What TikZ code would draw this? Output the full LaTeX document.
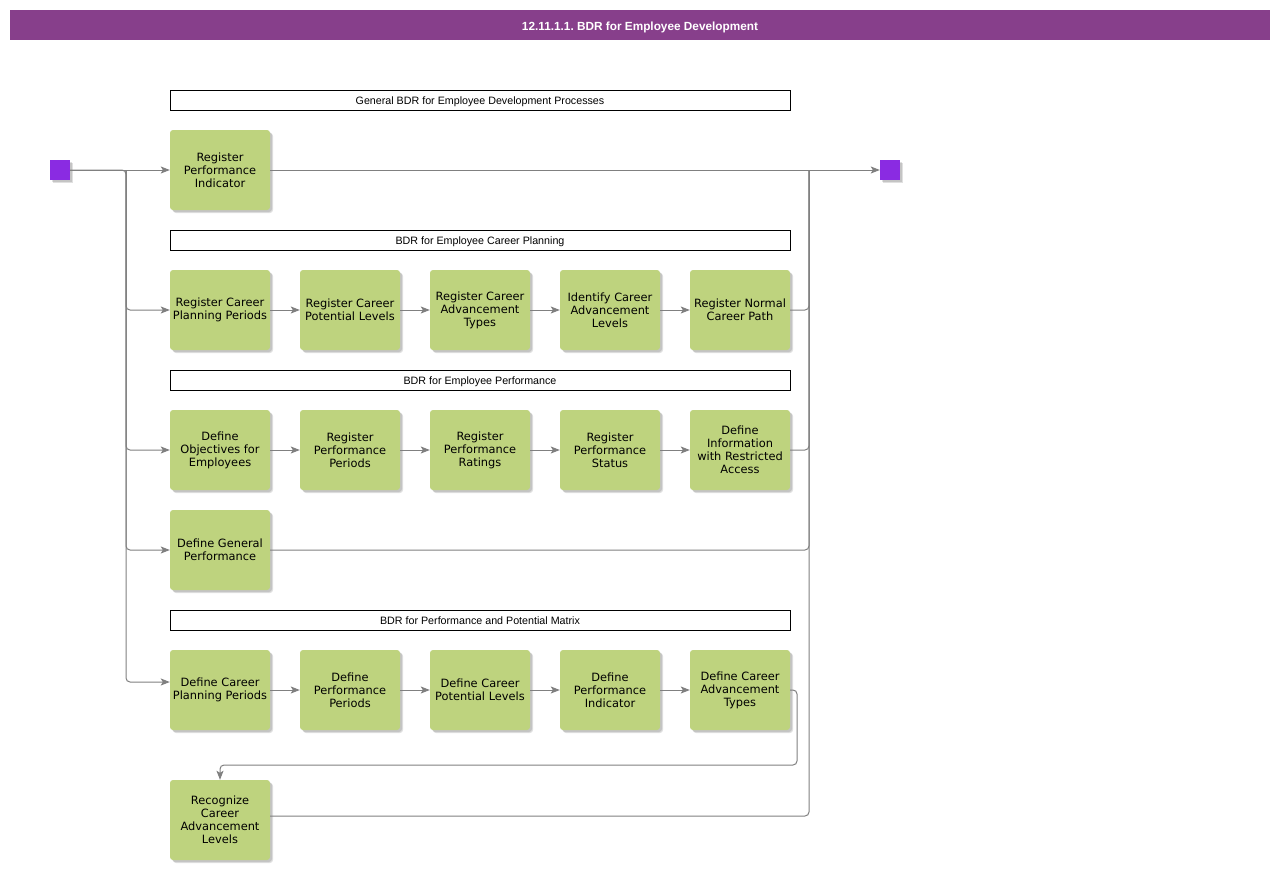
\documentclass[tikz,border=0pt]{standalone}
\usepackage{fontspec}
\setmainfont{DejaVu Sans}
\newfontfamily\arialfont{Liberation Sans}
\usetikzlibrary{arrows.meta,shadows,calc}
\definecolor{titlepurple}{HTML}{873F8B}
\definecolor{sqpurple}{HTML}{8A2BE2}
\definecolor{boxgreen}{HTML}{BED37E}
\definecolor{linegray}{HTML}{808080}
\frenchspacing
\tikzset{
  softshadow/.style={drop shadow={shadow xshift=3pt, shadow yshift=-3pt, fill=black, opacity=0.12},
    drop shadow={shadow xshift=2pt, shadow yshift=-2pt, fill=black, opacity=0.12}},
  proc/.style={rectangle, rounded corners=3pt, fill=boxgreen, minimum width=100pt, minimum height=80pt,
    inner sep=0pt, align=center, font=\fontsize{11.4}{13}\selectfont, softshadow},
  lane/.style={rectangle, draw=black, line width=1pt, fill=white, minimum width=620pt, minimum height=20pt,
    inner sep=0pt, text height=11.5pt, text depth=2pt, font=\arialfont\fontsize{10.7}{12}\selectfont},
  term/.style={rectangle, fill=sqpurple, minimum width=20pt, minimum height=20pt, inner sep=0pt, softshadow},
  conn/.style={draw=linegray, line width=1pt, rounded corners=4pt},
  arr/.style={conn, -{Stealth[length=9pt,width=7pt,inset=2pt]}},
}
\begin{document}
\begin{tikzpicture}[x=1pt,y=-1pt]
\useasboundingbox (0,0) rectangle (1280,870);
\fill[white] (0,0) rectangle (1280,870);
\node[fill=titlepurple, minimum width=1260pt, minimum height=30pt, inner sep=0pt, text=white,
  text height=12pt, text depth=2pt,
  font=\arialfont\bfseries\fontsize{11.8}{13}\selectfont] (title) at (640,25) {12.11.1.1. BDR for Employee Development};

\node[term] (start) at (60,170) {};
\node[term] (end) at (890,170) {};

\node[lane] (h1) at (480,100) {General BDR for Employee Development Processes};
\node[lane] (h2) at (480,240) {BDR for Employee Career Planning};
\node[lane] (h3) at (480,380) {BDR for Employee Performance};
\node[lane] (h4) at (480,620) {BDR for Performance and Potential Matrix};

\node[proc] (b11) at (220,170) {Register\\Performance\\Indicator};

\node[proc] (b21) at (220,310) {Register Career\\Planning Periods};
\node[proc] (b22) at (350,310) {Register Career\\Potential Levels};
\node[proc] (b23) at (480,310) {Register Career\\Advancement\\Types};
\node[proc] (b24) at (610,310) {Identify Career\\Advancement\\Levels};
\node[proc] (b25) at (740,310) {Register Normal\\Career Path};

\node[proc] (b31) at (220,450) {Define\\Objectives for\\Employees};
\node[proc] (b32) at (350,450) {Register\\Performance\\Periods};
\node[proc] (b33) at (480,450) {Register\\Performance\\Ratings};
\node[proc] (b34) at (610,450) {Register\\Performance\\Status};
\node[proc] (b35) at (740,450) {Define\\Information\\with Restricted\\Access};

\node[proc] (b41) at (220,550) {Define General\\Performance};

\node[proc] (b51) at (220,690) {Define Career\\Planning Periods};
\node[proc] (b52) at (350,690) {Define\\Performance\\Periods};
\node[proc] (b53) at (480,690) {Define Career\\Potential Levels};
\node[proc] (b54) at (610,690) {Define\\Performance\\Indicator};
\node[proc] (b55) at (740,690) {Define Career\\Advancement\\Types};

\node[proc] (b61) at (220,820) {Recognize\\Career\\Advancement\\Levels};

\coordinate (L) at (126,170);
\coordinate (R) at (809,170);
\coordinate (K) at (797,765);

% left bus
\draw[arr] (start.east) -- (b11.west);
\draw[arr] (start.east) -- (L) |- (b21.west);
\draw[arr] (L) |- (b31.west);
\draw[arr] (L) |- (b41.west);
\draw[arr] (L) |- ([yshift=8pt]b51.west);

% chains
\draw[arr] (b21) -- (b22);
\draw[arr] (b22) -- (b23);
\draw[arr] (b23) -- (b24);
\draw[arr] (b24) -- (b25);
\draw[arr] (b31) -- (b32);
\draw[arr] (b32) -- (b33);
\draw[arr] (b33) -- (b34);
\draw[arr] (b34) -- (b35);
\draw[arr] (b51) -- (b52);
\draw[arr] (b52) -- (b53);
\draw[arr] (b53) -- (b54);
\draw[arr] (b54) -- (b55);
\draw[arr] (b55.east) -| (K) -| (b61.north);

% right bus
\draw[arr] (b11.east) -- (end.west);
\draw[conn] (b25.east) -| (R);
\draw[conn] (b35.east) -| (R);
\draw[conn] (b41.east) -| (R);
\draw[conn] ([yshift=4pt]b61.east) -| (R);
\end{tikzpicture}
\end{document}
